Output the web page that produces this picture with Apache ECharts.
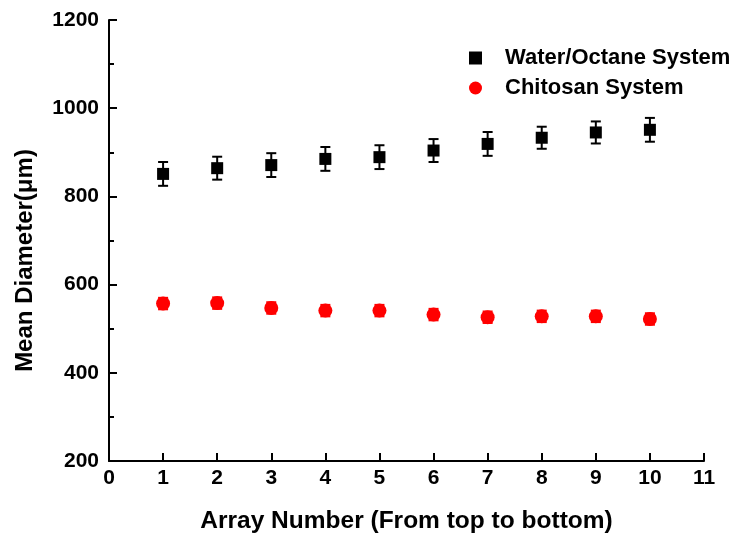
<!DOCTYPE html>
<html>
<head>
<meta charset="utf-8">
<script src="https://cdn.jsdelivr.net/npm/echarts@6/dist/echarts.min.js"></script>
<style>html,body{margin:0;padding:0;background:#fff;}#c{width:741px;height:539px;}</style>
</head>
<body>
<div id="c"></div>
<script>
var arrayNumbers = [1, 2, 3, 4, 5, 6, 7, 8, 9, 10];
var waterOctane = [851, 864, 871, 885, 889, 904, 919, 933, 945, 951];
var waterOctaneErr = [27, 26, 27, 27, 27, 26, 27, 25, 25, 27];
var chitosan = [557, 558, 547, 541, 541, 532, 526, 528, 528, 522];
var chitosanErr = [13, 13, 13, 13, 13, 13, 13, 13, 13, 13];
var xTicks = [0, 1, 2, 3, 4, 5, 6, 7, 8, 9, 10, 11];
var yTicks = [200, 400, 600, 800, 1000, 1200];

var FONT = '"Liberation Sans", Arial, sans-serif';

function pairs(xs, ys) { return xs.map(function (x, i) { return [x, ys[i]]; }); }
function errData(xs, ys, es) { return xs.map(function (x, i) { return [x, ys[i] - es[i], ys[i] + es[i]]; }); }

function errRender(color) {
  return function (params, api) {
    var x = api.value(0);
    var lo = api.coord([x, api.value(1)]);
    var hi = api.coord([x, api.value(2)]);
    var hw = 5;
    var st = { stroke: color, lineWidth: 2 };
    return {
      type: 'group',
      children: [
        { type: 'line', shape: { x1: lo[0], y1: lo[1], x2: hi[0], y2: hi[1] }, style: st },
        { type: 'line', shape: { x1: lo[0] - hw, y1: lo[1], x2: lo[0] + hw, y2: lo[1] }, style: st },
        { type: 'line', shape: { x1: hi[0] - hw, y1: hi[1], x2: hi[0] + hw, y2: hi[1] }, style: st }
      ]
    };
  };
}

var chart = echarts.init(document.getElementById('c'), null, { renderer: 'canvas' });
chart.setOption({
  backgroundColor: '#ffffff',
  animation: false,
  grid: { left: 109, right: 37, top: 20, bottom: 77, containLabel: false },
  legend: {
    orient: 'vertical',
    left: 469,
    top: 47,
    padding: 0,
    itemWidth: 13,
    itemHeight: 13,
    itemGap: 8,
    textStyle: { fontFamily: FONT, fontWeight: 'bold', fontSize: 22, color: '#000', padding: [0, 0, 0, 18] },
    data: [
      { name: 'Water/Octane System', icon: 'rect' },
      { name: 'Chitosan System', icon: 'circle' }
    ]
  },
  xAxis: {
    type: 'value',
    min: xTicks[0],
    max: xTicks[xTicks.length - 1],
    interval: 1,
    name: 'Array Number (From top to bottom)',
    nameLocation: 'middle',
    nameGap: 48,
    nameTextStyle: { fontFamily: FONT, fontWeight: 'bold', fontSize: 24.5, color: '#000' },
    axisLine: { lineStyle: { color: '#000', width: 2 } },
    axisTick: { inside: true, length: 8, lineStyle: { color: '#000', width: 2 } },
    axisLabel: { fontFamily: FONT, fontWeight: 'bold', fontSize: 21, color: '#000', margin: 7 },
    splitLine: { show: false }
  },
  yAxis: {
    type: 'value',
    min: yTicks[0],
    max: yTicks[yTicks.length - 1],
    interval: 200,
    name: 'Mean Diameter(μm)',
    nameLocation: 'middle',
    nameGap: 72,
    nameTextStyle: { fontFamily: FONT, fontWeight: 'bold', fontSize: 24, color: '#000', padding: [0, 40, 0, 0] },
    axisLine: { show: true, lineStyle: { color: '#000', width: 2 } },
    axisTick: { show: true, inside: true, length: 8, lineStyle: { color: '#000', width: 2 } },
    minorTick: { show: true, splitNumber: 2, length: 5, lineStyle: { color: '#000', width: 2 } },
    axisLabel: { fontFamily: FONT, fontWeight: 'bold', fontSize: 21, color: '#000', margin: 10,
      formatter: function (v) { return String(v); } },
    splitLine: { show: false },
    minorSplitLine: { show: false }
  },
  series: [
    {
      name: 'Water/Octane System Error',
      type: 'custom',
      renderItem: errRender('#000000'),
      data: errData(arrayNumbers, waterOctane, waterOctaneErr),
      z: 1
    },
    {
      name: 'Chitosan System Error',
      type: 'custom',
      renderItem: errRender('#ff0000'),
      data: errData(arrayNumbers, chitosan, chitosanErr),
      z: 1
    },
    {
      name: 'Water/Octane System',
      type: 'scatter',
      symbol: 'rect',
      symbolSize: 12,
      itemStyle: { color: '#000000', opacity: 1 },
      data: pairs(arrayNumbers, waterOctane),
      z: 2
    },
    {
      name: 'Chitosan System',
      type: 'scatter',
      symbol: 'circle',
      symbolSize: 14,
      itemStyle: { color: '#ff0000', opacity: 1 },
      data: pairs(arrayNumbers, chitosan),
      z: 2
    }
  ]
});
</script>
</body>
</html>
